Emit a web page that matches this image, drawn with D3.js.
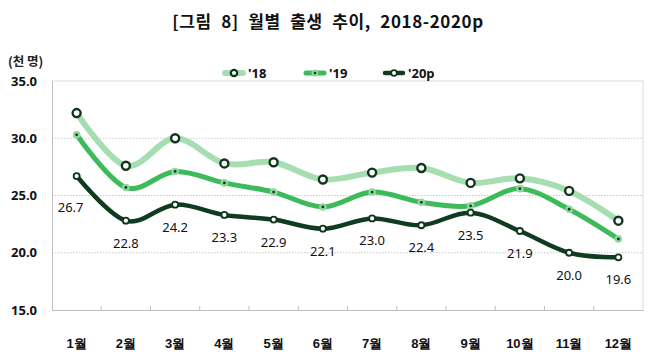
<!DOCTYPE html>
<html>
<head>
<meta charset="utf-8">
<script src="https://cdn.jsdelivr.net/npm/d3@7/dist/d3.min.js"></script>
<style>
  html, body { margin: 0; padding: 0; background: #fff; }
  svg { display: block; font-family: "Noto Sans CJK KR", "Noto Sans", sans-serif; }
</style>
</head>
<body>
<svg id="chart" width="650" height="363"></svg>
<script>
// data
var months = ["1월", "2월", "3월", "4월", "5월", "6월", "7월", "8월", "9월", "10월", "11월", "12월"];
var births18 = [32.2, 27.6, 30.0, 27.8, 27.9, 26.4, 27.0, 27.4, 26.1, 26.5, 25.4, 22.8];
var births19 = [30.3, 25.7, 27.1, 26.1, 25.3, 24.0, 25.3, 24.4, 24.1, 25.6, 23.8, 21.2];
var births20 = [26.7, 22.8, 24.2, 23.3, 22.9, 22.1, 23.0, 22.4, 23.5, 21.9, 20.0, 19.6];
var yTicks = [15, 20, 25, 30, 35];

var svg = d3.select("#chart");
var plotL = 52, plotR = 643, plotT = 81, plotB = 310;

var x = d3.scaleBand().domain(months).range([plotL, plotR]);
var y = d3.scaleLinear().domain([15, 35]).range([plotB, plotT]);
var cx = function(i) { return x(months[i]) + x.bandwidth() / 2; };

// title
svg.append("text")
    .attr("x", 328).attr("y", 28)
    .attr("text-anchor", "middle")
    .style("font-size", "17px").style("font-weight", "bold")
    .style("letter-spacing", "0.6px").style("word-spacing", "5px")
    .attr("fill", "#111")
    .text("[그림 8] 월별 출생 추이, 2018-2020p");

svg.append("text")
    .attr("x", 8).attr("y", 66)
    .style("font-size", "12.5px").style("font-weight", "bold")
    .attr("fill", "#222")
    .text("(천 명)");

// grid
svg.append("g").selectAll("line")
    .data(yTicks.filter(function(d) { return d > 15 && d < 35; }))
    .join("line")
    .attr("x1", plotL).attr("x2", plotR)
    .attr("y1", function(d) { return y(d); }).attr("y2", function(d) { return y(d); })
    .attr("stroke", "#c8c8c8").attr("stroke-dasharray", "1.5,1.5");

// border box
svg.append("path")
    .attr("d", "M" + plotL + "," + plotT + "H" + plotR + "V" + plotB)
    .attr("fill", "none").attr("stroke", "#d9d9d9");

// y axis
var yAxis = d3.axisLeft(y).tickValues(yTicks).tickSize(0).tickPadding(15)
    .tickFormat(d3.format(".1f"));
var gy = svg.append("g").attr("transform", "translate(" + plotL + ",0)").call(yAxis);
gy.select(".domain").attr("stroke", "#bfbfbf");
gy.selectAll("text").style("font-size", "13px").style("font-weight", "bold")
    .style("font-family", "'Noto Sans', sans-serif").attr("fill", "#111");

// x axis
var xAxis = d3.axisBottom(x).tickSize(0).tickPadding(29);
var gx = svg.append("g").attr("transform", "translate(0," + plotB + ")").call(xAxis);
gx.select(".domain").attr("stroke", "#bfbfbf");
gx.selectAll("text").style("font-size", "13px").style("font-weight", "bold").attr("fill", "#111");
gx.selectAll(".sep").data(months.slice(1)).join("line")
    .attr("class", "sep")
    .attr("x1", function(d) { return x(d); }).attr("x2", function(d) { return x(d); })
    .attr("y1", 0).attr("y2", -4)
    .attr("stroke", "#bfbfbf");

var line = d3.line()
    .x(function(d, i) { return cx(i); })
    .y(function(d) { return y(d); })
    .curve(d3.curveCardinal.tension(0));

var dark = "#10341c";
var series = [
  { name: "'18", values: births18, color: "#a6deb1", width: 6 },
  { name: "'19", values: births19, color: "#3dbb5b", width: 5 },
  { name: "'20p", values: births20, color: "#0f3b1e", width: 4.5 }
];

series.forEach(function(s, k) {
  svg.append("path")
      .attr("d", line(s.values))
      .attr("fill", "none")
      .attr("stroke", s.color)
      .attr("stroke-width", s.width)
      .attr("stroke-linecap", "round");

  var g = svg.append("g");
  if (k === 0) {
    g.selectAll("circle").data(s.values).join("circle")
        .attr("cx", function(d, i) { return cx(i); }).attr("cy", function(d) { return y(d); })
        .attr("r", 4).attr("fill", "#fff").attr("stroke", dark).attr("stroke-width", 2.4);
  } else if (k === 1) {
    g.selectAll(".m").data(s.values).join("circle").attr("class", "m")
        .attr("cx", function(d, i) { return cx(i); }).attr("cy", function(d) { return y(d); })
        .attr("r", 3.8).attr("fill", "#8fd69f");
    g.selectAll(".c").data(s.values).join("circle").attr("class", "c")
        .attr("cx", function(d, i) { return cx(i); }).attr("cy", function(d) { return y(d); })
        .attr("r", 1.4).attr("fill", "#123a1e");
  } else {
    g.selectAll("circle").data(s.values).join("circle")
        .attr("cx", function(d, i) { return cx(i); }).attr("cy", function(d) { return y(d); })
        .attr("r", 3).attr("fill", "#fff").attr("stroke", dark).attr("stroke-width", 1.8);
  }
});

// data labels for 2020p
svg.append("g").selectAll("text").data(births20).join("text")
    .attr("x", function(d, i) { return cx(i) - (i === 0 ? 6 : 0); })
    .attr("y", function(d, i) { return y(d) + (i === 0 ? 36 : 27); })
    .attr("text-anchor", "middle")
    .style("font-size", "13px")
    .style("font-family", "'Noto Sans', sans-serif")
    .attr("fill", "#111")
    .text(function(d) { return d.toFixed(1); });

// legend
var legendX = [223, 304, 383];
var leg = svg.append("g");
series.forEach(function(s, k) {
  var lx = legendX[k], ly = 73, mx = lx + 11;
  leg.append("line").attr("x1", lx + 2).attr("x2", lx + 20).attr("y1", ly).attr("y2", ly)
      .attr("stroke", s.color).attr("stroke-width", s.width).attr("stroke-linecap", "round");
  if (k === 0) {
    leg.append("circle").attr("cx", mx).attr("cy", ly).attr("r", 3.2)
        .attr("fill", "#fff").attr("stroke", dark).attr("stroke-width", 2.2);
  } else if (k === 1) {
    leg.append("circle").attr("cx", mx).attr("cy", ly).attr("r", 3.4).attr("fill", "#8fd69f");
    leg.append("circle").attr("cx", mx).attr("cy", ly).attr("r", 1.3).attr("fill", "#123a1e");
  } else {
    leg.append("circle").attr("cx", mx).attr("cy", ly).attr("r", 2.8)
        .attr("fill", "#fff").attr("stroke", dark).attr("stroke-width", 1.7);
  }
  leg.append("text").attr("x", lx + 25).attr("y", ly + 5)
      .style("font-size", "13px").style("font-weight", "bold")
      .style("font-family", "'Noto Sans', sans-serif")
      .attr("fill", "#111").text(s.name);
});
</script>
</body>
</html>
